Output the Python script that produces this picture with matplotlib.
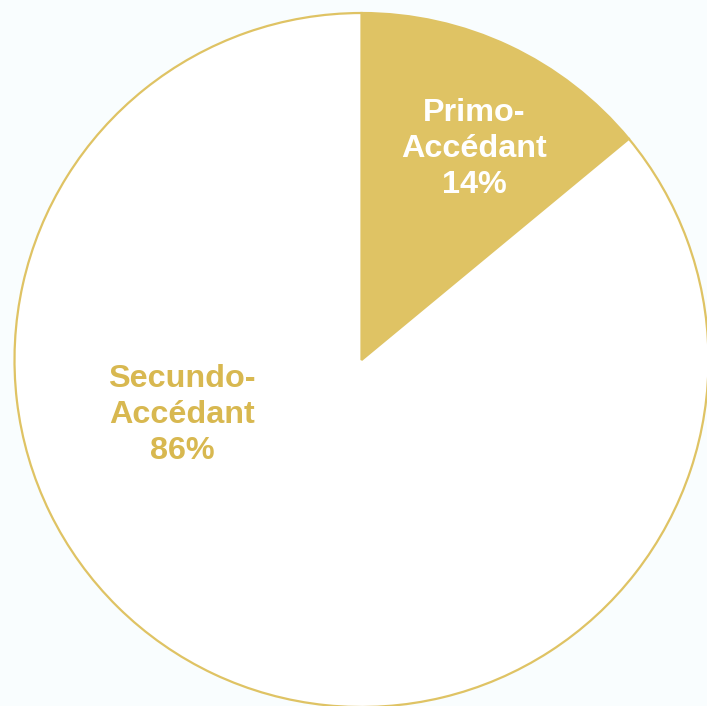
import matplotlib
matplotlib.use("Agg")
import matplotlib.pyplot as plt

# data
categories = ["Primo-\nAccédant", "Secundo-\nAccédant"]
shares = [14, 86]

gold = "#DFC364"
gold_text = "#D8B850"
bg = "#F9FDFE"

plt.rcParams["font.family"] = ["Liberation Sans", "DejaVu Sans"]

fig = plt.figure(figsize=(7.07, 7.06), dpi=100, facecolor=bg)
ax = fig.add_axes([0, 0, 1, 1])
ax.set_facecolor(bg)

wedges, _ = ax.pie(shares, startangle=90, counterclock=False,
                   colors=[gold, "white"],
                   wedgeprops=dict(edgecolor=gold, linewidth=1.6))

# label placement (relative to pie radius)
label_pos = [(0.324, 0.608), (-0.517, -0.159)]
label_colors = ["white", gold_text]
for name, val, (x, y), c in zip(categories, shares, label_pos, label_colors):
    ax.text(x, y, f"{name}\n{val}%", ha="center", va="center",
            multialignment="center", color=c, fontsize=23.3,
            fontweight="bold", linespacing=1.27)

ax.set_xlim(-1.0418, 0.9957)
ax.set_ylim(-0.9971, 1.0375)
ax.set_aspect("auto")
ax.axis("off")

fig.savefig("out.png", dpi=100, facecolor=bg)
